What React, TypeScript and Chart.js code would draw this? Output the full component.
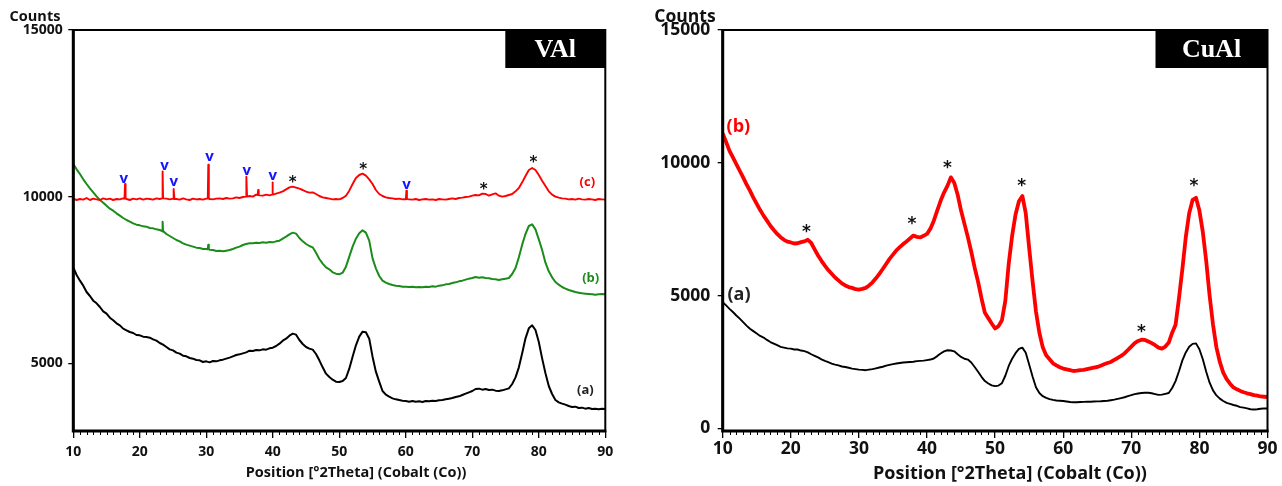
import React, { useEffect, useRef } from "react";
import { Chart, registerables } from "chart.js";

Chart.register(...registerables);

// ---------- sample positions (°2Theta), 0.5° step ----------
const theta: number[] = Array.from({ length: 161 }, (_, i) => 10 + i * 0.5);

// ---------- VAl panel ----------
const vAlA = [
  7880, 7650, 7480, 7330, 7140, 7020, 6880, 6800, 6690, 6560,
  6490, 6370, 6290, 6200, 6140, 6040, 5990, 5940, 5910, 5850,
  5840, 5800, 5790, 5770, 5720, 5680, 5610, 5560, 5490, 5420,
  5390, 5320, 5290, 5230, 5210, 5160, 5140, 5100, 5090, 5040,
  5060, 5030, 5070, 5060, 5090, 5110, 5140, 5170, 5210, 5250,
  5270, 5300, 5330, 5380, 5370, 5400, 5390, 5420, 5410, 5450,
  5470, 5520, 5590, 5680, 5740, 5830, 5890, 5860, 5700, 5580,
  5490, 5440, 5410, 5280, 5090, 4880, 4690, 4590, 4510, 4450,
  4440, 4470, 4560, 4840, 5200, 5540, 5800, 5950, 5930, 5740,
  5200, 4750, 4450, 4170, 4060, 4000, 3950, 3920, 3900, 3880,
  3870, 3850, 3870, 3850, 3860, 3840, 3870, 3860, 3880, 3870,
  3890, 3900, 3920, 3940, 3960, 3990, 4010, 4050, 4090, 4130,
  4170, 4230, 4240, 4210, 4230, 4200, 4210, 4180, 4170, 4190,
  4220, 4250, 4380, 4580, 4880, 5300, 5750, 6050, 6140, 6000,
  5640, 5150, 4700, 4320, 4080, 3900, 3830, 3790, 3760, 3720,
  3690, 3700, 3660, 3670, 3640, 3660, 3630, 3640, 3620, 3640,
  3630,
];
const vAlB = [
  10980, 10820, 10680, 10520, 10380, 10250, 10130, 10010, 9900, 9820,
  9730, 9640, 9580, 9500, 9430, 9360, 9300, 9250, 9200, 9160,
  9140, 9110, 9100, 9060, 9050, 9020, 9000, 8950, 8880, 8820,
  8760, 8700, 8660, 8600, 8560, 8530, 8500, 8470, 8460, 8430,
  8430, 8410, 8400, 8370, 8380, 8360, 8380, 8400, 8430, 8470,
  8500, 8550, 8580, 8600, 8600, 8620, 8610, 8630, 8620, 8640,
  8630, 8660, 8680, 8740, 8800, 8870, 8920, 8890, 8760, 8660,
  8580, 8520, 8480, 8320, 8130, 7990, 7880, 7820, 7730, 7690,
  7670, 7720, 7900, 8200, 8500, 8740, 8900, 8990, 8920, 8680,
  8150, 7850, 7620, 7480, 7420, 7380, 7350, 7330, 7320, 7300,
  7300, 7290, 7300, 7280, 7290, 7280, 7300, 7290, 7310, 7300,
  7330, 7340, 7370, 7380, 7410, 7430, 7460, 7480, 7510, 7540,
  7560, 7590, 7570, 7580, 7560, 7550, 7530, 7520, 7500, 7520,
  7540, 7560, 7680, 7860, 8180, 8560, 8880, 9120, 9170, 9020,
  8720, 8400, 8020, 7760, 7580, 7440, 7360, 7290, 7240, 7200,
  7170, 7140, 7120, 7100, 7090, 7080, 7070, 7060, 7070, 7080,
  7070,
];
const vAlC = [
  9940, 9900, 9930, 9910, 9960, 9900, 9940, 9920, 9900, 9950,
  9920, 9940, 9900, 9930, 9920, 9950, 9930, 9900, 9940, 9920,
  9950, 9910, 9940, 9930, 9910, 9950, 9930, 9960, 9940, 9920,
  9940, 9930, 9910, 9950, 9920, 9900, 9940, 9920, 9930, 9910,
  9940, 9930, 9920, 9940, 9950, 9930, 9960, 9940, 9950, 9980,
  9960, 9990, 10000, 10020, 10000, 10060, 10040, 10030, 10060, 10040,
  10060, 10090, 10120, 10160, 10220, 10280, 10300, 10270, 10240, 10200,
  10150, 10120, 10130, 10080, 10020, 9980, 9960, 9940, 9920, 9930,
  9920, 9960, 10030, 10180, 10380, 10560, 10650, 10690, 10630, 10520,
  10380, 10200, 10080, 10020, 9980, 9960, 9950, 9930, 9940, 9920,
  9930, 9920, 9910, 9930, 9900, 9920, 9930, 9910, 9920, 9900,
  9930, 9920, 9910, 9930, 9950, 9930, 9960, 9970, 9990, 10000,
  10030, 10050, 10040, 10090, 10080, 10030, 10070, 10100, 10030, 10000,
  10020, 10050, 10080, 10160, 10260, 10430, 10620, 10800, 10860, 10800,
  10650, 10480, 10320, 10160, 10060, 10000, 9970, 9950, 9940, 9920,
  9930, 9910, 9940, 9920, 9910, 9930, 9920, 9900, 9930, 9920,
  9910,
];
// sharp vanadium reflections on curve (c)
const vSpikePos = [17.78, 23.43, 25.13, 30.3, 36.05, 37.8, 39.96, 60.09];
const vSpikeTop = [10380, 10760, 10230, 10960, 10600, 10200, 10430, 10180];
const vSpikeBase = [9940, 9950, 9930, 9940, 10000, 10050, 10060, 9925];
// small sharp features on curve (b)
const bSpikePos = [23.43, 30.3];
const bSpikeTop = [9250, 8560];
const bSpikeBase = [8970, 8420];

// ---------- CuAl panel ----------
const cuAlA = [
  4750, 4630, 4500, 4380, 4250, 4130, 4000, 3870, 3750, 3660,
  3570, 3480, 3420, 3330, 3250, 3190, 3130, 3070, 3040, 3010,
  3000, 2970, 2970, 2930, 2910, 2860, 2790, 2730, 2670, 2600,
  2540, 2490, 2440, 2400, 2370, 2330, 2310, 2280, 2250, 2230,
  2210, 2200, 2190, 2210, 2230, 2260, 2290, 2320, 2360, 2390,
  2420, 2440, 2460, 2480, 2490, 2500, 2510, 2530, 2540, 2550,
  2570, 2590, 2630, 2720, 2820, 2900, 2940, 2930, 2900, 2790,
  2690, 2620, 2590, 2480, 2310, 2130, 1940, 1780, 1690, 1620,
  1590, 1610, 1700, 1980, 2350, 2620, 2830, 2990, 3040, 2850,
  2400, 1950, 1550, 1330, 1210, 1150, 1100, 1070, 1050, 1040,
  1030, 1010, 990, 980, 985, 990, 995, 1000, 1000, 1010,
  1015, 1020, 1030, 1040, 1060, 1080, 1110, 1140, 1170, 1210,
  1250, 1290, 1310, 1330, 1340, 1340, 1320, 1290, 1260, 1270,
  1300, 1330, 1520, 1780, 2150, 2560, 2860, 3070, 3180, 3200,
  2980, 2600, 2130, 1720, 1430, 1240, 1120, 1030, 960, 920,
  880, 850, 800, 780, 750, 720, 710, 720, 740, 750,
  750,
];
const cuAlB = [
  11100, 10780, 10450, 10200, 9950, 9700, 9450, 9190, 8950, 8690,
  8450, 8220, 8010, 7820, 7630, 7470, 7320, 7200, 7100, 7030,
  7000, 6960, 6970, 7010, 7040, 7100, 6980, 6740, 6510, 6310,
  6130, 5960, 5820, 5680, 5570, 5460, 5380, 5320, 5290, 5240,
  5220, 5250, 5290, 5380, 5500, 5650, 5820, 6000, 6190, 6380,
  6540, 6700, 6820, 6940, 7040, 7150, 7260, 7210, 7190, 7250,
  7320, 7520, 7820, 8200, 8570, 8880, 9130, 9450, 9250, 8800,
  8200, 7700, 7200, 6650, 6050, 5520, 4900, 4350, 4150, 3950,
  3760, 3850, 4070, 4800, 6200, 7250, 8050, 8550, 8750, 8100,
  6800, 5550, 4400, 3600, 3050, 2750, 2600, 2450, 2370, 2300,
  2250, 2220, 2190, 2160, 2170, 2190, 2200, 2230, 2260, 2290,
  2310, 2360, 2410, 2460, 2500, 2580, 2650, 2730, 2820, 2950,
  3080, 3210, 3290, 3340, 3330, 3270, 3210, 3130, 3040, 3000,
  3080, 3230, 3600, 3900, 4900, 6000, 7200, 8100, 8600, 8680,
  8200, 7400, 6300, 5000, 3900, 3050, 2500, 2100, 1850, 1680,
  1540, 1470, 1410, 1360, 1320, 1290, 1250, 1230, 1200, 1190,
  1180,
];

// ---------- axes ----------
const xTicks = [10, 20, 30, 40, 50, 60, 70, 80, 90];
const vAlYTicks = [5000, 10000, 15000];
const cuAlYTicks = [0, 5000, 10000, 15000];

// ---------- annotations (°2Theta, counts) ----------
const vAlStarX = [43.0, 53.6, 71.7, 79.2];
const vAlStarY = [10530, 10930, 10330, 11130];
const vAlVX = [17.6, 23.7, 25.1, 30.5, 36.1, 40.0, 60.1];
const vAlVY = [10530, 10930, 10430, 11200, 10760, 10630, 10360];
const vAlLabelText = ["(c)", "(b)", "(a)"];
const vAlLabelX = [87.3, 87.8, 87.0];
const vAlLabelY = [10420, 7545, 4190];

const cuAlStarX = [22.3, 37.8, 43.0, 53.9, 71.5, 79.2];
const cuAlStarY = [7570, 7860, 9970, 9280, 3810, 9280];
const cuAlLabelText = ["(b)", "(a)"];
const cuAlLabelX = [12.3, 12.4];
const cuAlLabelY = [11370, 5040];

const RED = "#ff0000";
const GREEN = "#1a8c1a";
const BLACK = "#000000";
const BLUE = "#1414ff";
const FONT = '"Open Sans", "DejaVu Sans", sans-serif';
const X_TITLE = "Position [°2Theta] (Cobalt (Co))";

type Pt = { x: number; y: number };

function buildSeries(ys: number[], sp: number[] = [], st: number[] = [], sb: number[] = []): Pt[] {
  const pts: Pt[] = theta.map((x, i) => ({ x, y: ys[i] }));
  sp.forEach((p, i) => {
    pts.push({ x: p - 0.08, y: sb[i] }, { x: p, y: st[i] }, { x: p + 0.08, y: sb[i] });
  });
  pts.sort((a, b) => a.x - b.x);
  return pts;
}

type Panel = {
  id: string;
  canvasLeft: number;
  width: number;
  yMin: number;
  yTicks: number[];
  yAxisW: number;
  padRight: number;
  tickSize: number;
  xPad: number;
  yPad: number;
  series: { points: Pt[]; color: string; width: number }[];
  box: { text: string; w: number; h: number; size: number };
  counts: { x: number; y: number; size: number };
  title: { x: number; y: number; size: number };
  stars: { xs: number[]; ys: number[]; size: number };
  vs?: { xs: number[]; ys: number[]; size: number };
  labels: { text: string[]; xs: number[]; ys: number[]; colors: string[]; size: number };
};

function decorPlugin(p: Panel) {
  return {
    id: "decor_" + p.id,
    afterDraw(chart: any) {
      const { ctx, chartArea: a } = chart;
      const xs = chart.scales.x;
      const ys = chart.scales.y;
      ctx.save();
      ctx.strokeStyle = "#000";
      // minor ticks
      ctx.lineWidth = 1;
      for (let t = 11; t < 90; t++) {
        if (t % 10 === 0) continue;
        const px = Math.round(xs.getPixelForValue(t)) + 0.5;
        ctx.beginPath();
        ctx.moveTo(px, a.bottom);
        ctx.lineTo(px, a.bottom + 4);
        ctx.stroke();
      }
      // frame
      ctx.lineWidth = 2;
      ctx.strokeRect(a.left, a.top, a.right - a.left, a.bottom - a.top);
      ctx.lineWidth = 3;
      ctx.beginPath();
      ctx.moveTo(a.left, a.top - 1);
      ctx.lineTo(a.left, a.bottom);
      ctx.lineTo(a.right + 1, a.bottom);
      ctx.stroke();
      // sample box
      ctx.fillStyle = "#000";
      ctx.fillRect(a.right - p.box.w, a.top, p.box.w, p.box.h);
      ctx.fillStyle = "#fff";
      ctx.font = `bold ${p.box.size}px "Liberation Serif", "Times New Roman", serif`;
      ctx.textAlign = "center";
      ctx.textBaseline = "middle";
      ctx.fillText(p.box.text, a.right - p.box.w / 2, a.top + p.box.h / 2 + 1);
      // Counts
      ctx.fillStyle = "#111";
      ctx.font = `bold ${p.counts.size}px ${FONT}`;
      ctx.fillText("Counts", p.counts.x, p.counts.y);
      // x title
      ctx.font = `bold ${p.title.size}px ${FONT}`;
      ctx.fillText(X_TITLE, p.title.x, p.title.y);
      // stars
      ctx.fillStyle = "#111";
      ctx.font = `bold ${p.stars.size}px "DejaVu Sans", sans-serif`;
      ctx.textBaseline = "alphabetic";
      p.stars.xs.forEach((sx, i) => {
        ctx.fillText("*", xs.getPixelForValue(sx), ys.getPixelForValue(p.stars.ys[i]) + 0.56 * p.stars.size);
      });
      // v marks
      if (p.vs) {
        ctx.fillStyle = BLUE;
        ctx.font = `bold ${p.vs.size}px ${FONT}`;
        p.vs.xs.forEach((vx, i) => {
          ctx.fillText("v", xs.getPixelForValue(vx), ys.getPixelForValue(p.vs!.ys[i]) + 0.27 * p.vs!.size);
        });
      }
      // curve labels
      ctx.font = `bold ${p.labels.size}px ${FONT}`;
      ctx.textBaseline = "middle";
      p.labels.text.forEach((t, i) => {
        ctx.fillStyle = p.labels.colors[i];
        ctx.fillText(t, xs.getPixelForValue(p.labels.xs[i]), ys.getPixelForValue(p.labels.ys[i]));
      });
      ctx.restore();
    },
  };
}

function makeConfig(p: Panel): any {
  const tickFont = { family: FONT, size: p.tickSize, weight: "bold" as const };
  return {
    type: "line",
    data: {
      datasets: p.series.map((s) => ({
        data: s.points,
        borderColor: s.color,
        borderWidth: s.width,
        borderJoinStyle: "round",
        pointRadius: 0,
        tension: 0,
        fill: false,
      })),
    },
    options: {
      animation: false,
      responsive: false,
      events: [],
      layout: { padding: { top: 30, right: p.padRight, left: 0, bottom: 0 } },
      plugins: { legend: { display: false }, tooltip: { enabled: false } },
      scales: {
        x: {
          type: "linear",
          min: 10,
          max: 90,
          afterFit: (s: any) => {
            s.height = 55;
          },
          afterBuildTicks: (s: any) => {
            s.ticks = xTicks.map((v) => ({ value: v }));
          },
          grid: { display: true, drawOnChartArea: false, drawTicks: true, tickLength: 7, color: "#000", lineWidth: 1.3 },
          border: { display: false },
          ticks: {
            font: tickFont,
            color: "#111",
            padding: p.xPad,
            maxRotation: 0,
            autoSkip: false,
            callback: (v: any) => String(v),
          },
        },
        y: {
          type: "linear",
          min: p.yMin,
          max: 15000,
          afterFit: (s: any) => {
            s.width = p.yAxisW;
          },
          afterBuildTicks: (s: any) => {
            s.ticks = p.yTicks.map((v) => ({ value: v }));
          },
          grid: { display: true, drawOnChartArea: false, drawTicks: true, tickLength: 5, color: "#000", lineWidth: 1.3 },
          border: { display: false },
          ticks: {
            font: tickFont,
            color: "#111",
            padding: p.yPad,
            autoSkip: false,
            callback: (v: any) => String(v),
          },
        },
      },
    },
    plugins: [decorPlugin(p)],
  };
}

const vAlPanel: Panel = {
  id: "val",
  canvasLeft: 0,
  width: 640,
  yMin: 2970,
  yTicks: vAlYTicks,
  yAxisW: 73.3,
  padRight: 34.7,
  tickSize: 14,
  xPad: 6,
  yPad: 5.5,
  series: [
    { points: buildSeries(vAlC, vSpikePos, vSpikeTop, vSpikeBase), color: RED, width: 1.9 },
    { points: buildSeries(vAlB, bSpikePos, bSpikeTop, bSpikeBase), color: GREEN, width: 2 },
    { points: buildSeries(vAlA), color: BLACK, width: 2 },
  ],
  box: { text: "VAl", w: 100, h: 38, size: 26 },
  counts: { x: 35, y: 17, size: 14.5 },
  title: { x: 356, y: 473, size: 14.5 },
  stars: { xs: vAlStarX, ys: vAlStarY, size: 15 },
  vs: { xs: vAlVX, ys: vAlVY, size: 15 },
  labels: { text: vAlLabelText, xs: vAlLabelX, ys: vAlLabelY, colors: [RED, GREEN, "#222"], size: 13 },
};

const cuAlPanel: Panel = {
  id: "cual",
  canvasLeft: 640,
  width: 642,
  yMin: -100,
  yTicks: cuAlYTicks,
  yAxisW: 82.7,
  padRight: 14.5,
  tickSize: 17.5,
  xPad: 1,
  yPad: 7.5,
  series: [
    { points: buildSeries(cuAlB), color: RED, width: 3.8 },
    { points: buildSeries(cuAlA), color: BLACK, width: 1.9 },
  ],
  box: { text: "CuAl", w: 112, h: 38, size: 26 },
  counts: { x: 45, y: 17, size: 17.5 },
  title: { x: 370, y: 474, size: 18 },
  stars: { xs: cuAlStarX, ys: cuAlStarY, size: 17 },
  labels: { text: cuAlLabelText, xs: cuAlLabelX, ys: cuAlLabelY, colors: [RED, "#222"], size: 18 },
};

function XrdPanel({ panel }: { panel: Panel }) {
  const ref = useRef<HTMLCanvasElement>(null);
  useEffect(() => {
    if (!ref.current) return;
    const chart = new Chart(ref.current, makeConfig(panel));
    return () => chart.destroy();
  }, [panel]);
  return (
    <canvas
      ref={ref}
      width={panel.width}
      height={486}
      style={{ position: "absolute", left: panel.canvasLeft, top: 0, width: panel.width, height: 486 }}
    />
  );
}

export default function App() {
  return (
    <div style={{ position: "fixed", left: 0, top: 0, width: 1282, height: 486, background: "#fff" }}>
      <XrdPanel panel={vAlPanel} />
      <XrdPanel panel={cuAlPanel} />
    </div>
  );
}
